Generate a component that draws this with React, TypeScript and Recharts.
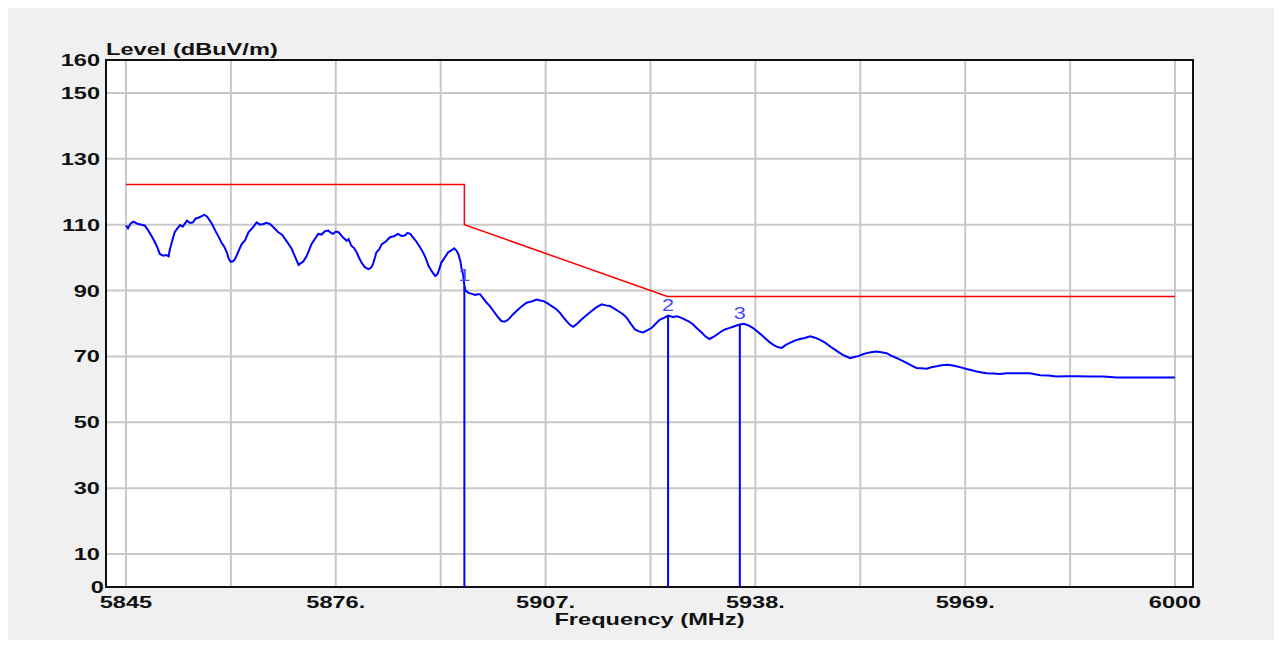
import React from "react";
import {
  LineChart,
  Line,
  XAxis,
  YAxis,
  CartesianGrid,
  ReferenceLine,
  ReferenceArea,
} from "recharts";

// measured trace (MHz / dBuV/m)
const traceFreq = [
  5845.0, 5845.3, 5845.7, 5846.1, 5846.7, 5847.3, 5847.8, 5848.3, 5848.8, 5849.3, 5849.7, 5850.0,
  5850.5, 5851.0, 5851.3, 5851.5, 5851.9, 5852.2, 5852.6, 5853.0, 5853.4, 5854.0, 5854.5, 5854.9,
  5855.3, 5855.7, 5856.2, 5856.6, 5857.0, 5857.4, 5857.8, 5858.2, 5858.7, 5859.1, 5859.5, 5859.9,
  5860.2, 5860.5, 5860.8, 5861.1, 5861.6, 5862.1, 5862.6, 5863.1, 5863.7, 5864.3, 5864.8, 5865.3,
  5865.8, 5866.3, 5866.9, 5867.5, 5868.1, 5868.7, 5869.1, 5869.5, 5870.0, 5870.5, 5870.9, 5871.2,
  5871.7, 5872.0, 5872.4, 5872.9, 5873.4, 5873.9, 5874.4, 5874.9, 5875.3, 5875.6, 5876.0, 5876.4,
  5877.0, 5877.6, 5877.9, 5878.3, 5878.7, 5879.1, 5879.4, 5879.8, 5880.3, 5880.8, 5881.2, 5881.5,
  5881.8, 5882.0, 5882.4, 5882.8, 5883.4, 5884.0, 5884.6, 5885.2, 5885.7, 5886.2, 5886.6, 5887.0,
  5887.5, 5888.0, 5888.4, 5888.9, 5889.3, 5889.7, 5890.2, 5890.7, 5891.0, 5891.2, 5891.6, 5892.1,
  5892.6, 5893.0, 5893.5, 5893.8, 5894.1, 5894.4, 5894.6, 5894.8, 5895.0, 5895.1, 5895.6, 5896.1,
  5896.6, 5897.0, 5897.3, 5897.8, 5898.3, 5898.8, 5899.3, 5899.9, 5900.5, 5901.0, 5901.5, 5902.1,
  5902.7, 5903.4, 5904.2, 5904.9, 5905.7, 5906.2, 5906.7, 5907.3, 5907.9, 5908.5, 5909.1, 5909.6,
  5910.1, 5910.6, 5911.1, 5911.7, 5912.3, 5913.0, 5913.8, 5914.5, 5915.3, 5915.9, 5916.5, 5917.1,
  5917.7, 5918.4, 5919.0, 5919.6, 5920.2, 5920.8, 5921.4, 5922.0, 5922.7, 5923.3, 5923.9, 5924.5,
  5925.1, 5925.8, 5926.4, 5927.0, 5927.6, 5928.2, 5928.8, 5929.4, 5930.1, 5930.6, 5931.2, 5931.8,
  5932.3, 5932.9, 5933.5, 5934.1, 5934.7, 5935.2, 5935.7, 5936.3, 5937.0, 5937.6, 5938.2, 5938.8,
  5939.4, 5940.0, 5940.6, 5941.2, 5941.9, 5942.5, 5943.1, 5943.8, 5944.6, 5945.3, 5946.1, 5946.8,
  5947.5, 5948.3, 5949.0, 5949.8, 5950.5, 5951.2, 5952.0, 5952.6, 5953.2, 5953.8, 5954.4, 5955.1,
  5955.9, 5956.6, 5957.4, 5958.1, 5958.9, 5959.6, 5960.4, 5961.1, 5961.8, 5962.5, 5963.3, 5964.0,
  5964.8, 5965.5, 5966.3, 5967.0, 5967.7, 5968.5, 5969.2, 5970.0, 5970.7, 5971.5, 5972.2, 5973.2,
  5974.1, 5975.1, 5976.1, 5977.3, 5978.6, 5979.3, 5980.1, 5981.3, 5982.5, 5984.0, 5985.5, 5987.5,
  5989.4, 5991.4, 5994.0, 5996.3, 6000.0,
];
const traceLevel = [
  109.8, 108.9, 110.4, 110.9, 110.3, 110.0, 109.7, 108.2, 106.5, 104.6, 102.8, 101.1,
  100.6, 100.8, 100.4, 102.6, 105.6, 107.7, 108.9, 109.9, 109.4, 111.2, 110.5, 110.7,
  111.9, 112.1, 112.6, 113.0, 112.4, 111.2, 109.9, 108.2, 106.3, 104.6, 103.4, 101.6,
  99.6, 98.7, 98.9, 99.5, 101.8, 104.1, 105.3, 107.7, 109.0, 110.7, 110.0, 110.2,
  110.6, 110.2, 109.0, 107.7, 106.9, 105.1, 103.9, 102.6, 100.2, 97.8, 98.4, 98.8,
  100.5, 102.0, 104.1, 105.6, 107.2, 107.0, 108.0, 108.2, 107.5, 107.2, 107.9, 107.7,
  106.3, 105.1, 105.6, 103.6, 102.9, 101.6, 100.1, 98.5, 97.1, 96.5, 96.9, 98.0,
  100.1, 101.6, 102.5, 104.1, 104.9, 106.2, 106.5, 107.2, 106.6, 106.7, 107.5, 107.2,
  105.9, 104.6, 103.3, 101.6, 99.8, 97.5, 95.8, 94.4, 94.9, 96.0, 98.5, 100.0,
  101.6, 102.1, 102.8, 102.2, 101.1, 99.0, 96.5, 95.0, 91.5, 90.2, 89.3, 89.0,
  88.7, 88.9, 88.9, 87.6, 86.3, 85.2, 83.8, 82.1, 80.7, 80.6, 81.2, 82.6,
  83.8, 85.1, 86.3, 86.7, 87.3, 87.0, 86.8, 86.1, 85.3, 84.5, 83.3, 81.9,
  80.7, 79.6, 79.0, 80.0, 81.2, 82.4, 83.8, 84.9, 85.8, 85.5, 85.3, 84.6,
  83.8, 82.9, 81.7, 79.9, 78.2, 77.6, 77.3, 77.9, 78.7, 80.0, 81.2, 81.7,
  82.4, 82.0, 82.2, 81.8, 81.2, 80.6, 79.7, 78.5, 77.2, 76.1, 75.3, 75.9,
  76.6, 77.5, 78.2, 78.6, 79.0, 79.4, 79.7, 79.9, 79.4, 78.7, 77.7, 76.7,
  75.6, 74.5, 73.6, 72.9, 72.6, 73.5, 74.1, 74.8, 75.3, 75.6, 76.1, 75.7,
  75.1, 74.2, 73.1, 72.0, 71.0, 70.2, 69.5, 69.8, 70.1, 70.6, 71.0, 71.3,
  71.5, 71.3, 71.0, 70.2, 69.5, 68.8, 68.0, 67.2, 66.5, 66.4, 66.3, 66.7,
  67.0, 67.3, 67.5, 67.3, 67.0, 66.6, 66.2, 65.8, 65.4, 65.1, 64.9, 64.8,
  64.7, 64.9, 64.9, 64.9, 64.9, 64.6, 64.3, 64.2, 63.9, 64.0, 64.0, 63.9,
  63.9, 63.6, 63.6, 63.6, 63.6,
];

// limit line
const limitFreq = [5845, 5895, 5895, 5925, 6000];
const limitLevel = [122.2, 122.2, 110.0, 88.2, 88.2];

// markers
const markerNames = ["1", "2", "3"];
const markerFreq = [5895.0, 5925.1, 5935.7];
const markerLevel = [91.3, 82.4, 79.7];

const xGridTicks = [5845, 5860.5, 5876, 5891.5, 5907, 5922.5, 5938, 5953.5, 5969, 5984.5, 6000];
const xTickText: Record<string, string> = {
  "5845": "5845",
  "5876": "5876.",
  "5907": "5907.",
  "5938": "5938.",
  "5969": "5969.",
  "6000": "6000",
};
const yTicks = [0, 10, 30, 50, 70, 90, 110, 130, 150, 160];

const X_MIN = 5842.05;
const X_MAX = 6002.66;

const trace = traceFreq.map((f, i) => ({ f, v: traceLevel[i] }));
const limit = limitFreq.map((f, i) => ({ f, v: limitLevel[i] }));

const FONT = "'Liberation Sans', Arial, sans-serif";
const STRETCH = 1.43;

const XTick = ({ x, y, payload }: any) => {
  const txt = xTickText[String(payload.value)];
  if (!txt) return <g />;
  return (
    <text
      transform={`translate(${x},${y + 21}) scale(${STRETCH},1)`}
      textAnchor="middle"
      fontFamily={FONT}
      fontWeight="bold"
      fontSize={16.5}
      fill="#111"
    >
      {txt}
    </text>
  );
};

const YTick = ({ x, y, payload }: any) => {
  const zero = payload.value === 0;
  return (
    <text
      transform={`translate(${x - (zero ? 2 : 6)},${y + 6}) scale(${STRETCH},1)`}
      textAnchor="end"
      fontFamily={FONT}
      fontWeight="bold"
      fontSize={16.5}
      fill="#111"
    >
      {payload.value}
    </text>
  );
};

const markerLabel = (name: string) => (props: any) => {
  const vb = props.viewBox || {};
  return (
    <text
      transform={`translate(${vb.x},${vb.y - 5}) scale(1.27,1)`}
      textAnchor="middle"
      fontFamily={FONT}
      fontSize={17}
      fill="#4646ff"
    >
      {name}
    </text>
  );
};

export default function App() {
  return (
    <div style={{ position: "relative", width: 1266, height: 632, background: "#f0f0f0" }}>
      <div
        style={{
          position: "absolute",
          left: 98,
          top: 33,
          fontFamily: FONT,
          fontWeight: "bold",
          fontSize: 16.5,
          color: "#111",
          transform: `scaleX(${STRETCH})`,
          transformOrigin: "left top",
          whiteSpace: "nowrap",
          lineHeight: "16px",
        }}
      >
        Level (dBuV/m)
      </div>
      <LineChart
        width={1266}
        height={632}
        margin={{ top: 52, right: 81, bottom: 13, left: 8 }}
      >
        <CartesianGrid fill="#ffffff" stroke="#c8c8c8" strokeWidth={2} />
        <XAxis
          type="number"
          dataKey="f"
          domain={[X_MIN, X_MAX]}
          ticks={xGridTicks}
          allowDataOverflow
          height={40}
          axisLine={false}
          tickLine={false}
          tickSize={0}
          tickMargin={0}
          tick={<XTick />}
          interval={0}
        />
        <YAxis
          type="number"
          domain={[0, 160]}
          ticks={yTicks}
          width={90}
          axisLine={false}
          tickLine={false}
          tickSize={0}
          tickMargin={0}
          tick={<YTick />}
          interval={0}
        />
        <Line
          data={limit}
          dataKey="v"
          type="linear"
          stroke="#ff0000"
          strokeWidth={1.5}
          dot={false}
          isAnimationActive={false}
        />
        <Line
          data={trace}
          dataKey="v"
          type="linear"
          stroke="#0000ff"
          strokeWidth={2}
          dot={false}
          isAnimationActive={false}
        />
        {markerFreq.map((f, i) => (
          <ReferenceLine
            key={markerNames[i]}
            segment={[
              { x: f, y: 0 },
              { x: f, y: markerLevel[i] },
            ]}
            stroke="#0000ff"
            strokeWidth={2}
            label={markerLabel(markerNames[i])}
          />
        ))}
        <ReferenceArea
          x1={X_MIN}
          x2={X_MAX}
          y1={0}
          y2={160}
          fill="none"
          stroke="#111"
          strokeWidth={2}
          ifOverflow="visible"
        />
      </LineChart>
      <div
        style={{
          position: "absolute",
          left: 0,
          width: 1283,
          top: 603,
          textAlign: "center",
          fontFamily: FONT,
          fontWeight: "bold",
          fontSize: 16.5,
          color: "#111",
          lineHeight: "16px",
        }}
      >
        <span style={{ display: "inline-block", transform: `scaleX(${STRETCH})` }}>Frequency (MHz)</span>
      </div>
    </div>
  );
}
